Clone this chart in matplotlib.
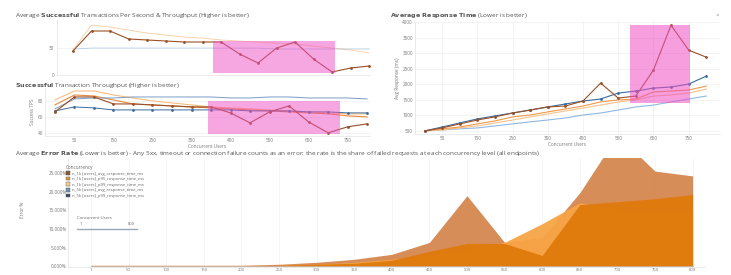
import matplotlib
matplotlib.use("Agg")
import matplotlib.pyplot as plt
from matplotlib.lines import Line2D
from matplotlib.patches import Rectangle, Patch

plt.rcParams['font.family'] = ['Open Sans', 'DejaVu Sans']

# ---------------- data ----------------
users = [1, 50, 100, 150, 200, 250, 300, 350, 400, 450, 500, 550, 600, 650, 700, 750, 800]
tick_users = [50, 150, 250, 350, 450, 550, 650, 750]

series_names = [
    "n_1k [users]_avg_response_time_ms",
    "n_1k [users]_p95_response_time_ms",
    "n_1k [users]_p99_response_time_ms",
    "n_5k [users]_avg_response_time_ms",
    "n_5k [users]_p99_response_time_ms",
]
legend_colors = ["#8e5a32", "#dd9a3c", "#f3cf8c", "#7892b4", "#34506f"]

# Panel A: average successful TPS
tps_brown = [26.2, 48, 48, 39.3, 38.2, 37.1, 36, 36, 36, 22.9, 13.1, 29.4, 36, 17.4, 3.3, 7.6, 9.8]
tps_peach = [27.3, 54.5, 52.3, 49, 45.8, 43.6, 41.4, 40.3, 38.2, 37, 36, 34.9, 33.8, 31.6, 29.4, 27.3, 24]
tps_lightblue = [28.3, 29.4, 29.4, 29.4, 29.4, 29.4, 29.4, 29.4, 29.4, 29.4, 29.4, 28.3, 28.3, 28.3, 28.3, 28.3, 28.3]

# Panel B: successful throughput
thr_brown = [66.25, 85, 85, 76.25, 76.25, 75, 73.75, 72.5, 72.5, 65, 52.5, 66.25, 73.75, 53.75, 40, 47.5, 51.25]
thr_orange = [75, 87.5, 86.25, 81.25, 76.25, 75, 73.75, 72.5, 71.25, 70, 68.75, 67.5, 66.25, 65, 63.75, 61.25, 60]
thr_peach = [81.25, 92.5, 92.5, 87.5, 83.75, 80, 77.5, 75, 72.5, 71.25, 70, 68.75, 67.5, 66.25, 65, 63.75, 63.75]
thr_blue_light = [70, 82.5, 83.75, 83.75, 85, 85, 85, 85, 85, 83.75, 83.75, 85, 85, 83.75, 83.75, 83.75, 82.5]
thr_blue_dark = [67.5, 72.5, 71.25, 68.75, 68.75, 68.75, 68.75, 68.75, 68.75, 68.75, 67.5, 67.5, 67.5, 66.25, 66.25, 65, 65]

# Panel C: average response time (ms)
rt_brown = [500, 595, 725, 850, 950, 1075, 1170, 1270, 1300, 1460, 2035, 1555, 1620, 2455, 3895, 3095, 2870]
rt_darkblue = [500, 625, 755, 885, 980, 1075, 1170, 1270, 1365, 1460, 1525, 1715, 1780, 1875, 1910, 2005, 2260]
rt_orange = [500, 565, 625, 725, 820, 950, 1010, 1110, 1205, 1300, 1430, 1495, 1525, 1750, 1780, 1815, 1940]
rt_peach = [500, 530, 595, 660, 755, 850, 950, 1045, 1140, 1235, 1330, 1430, 1495, 1620, 1655, 1715, 1845]
rt_lightblue = [500, 530, 565, 595, 660, 725, 790, 850, 915, 1010, 1075, 1170, 1270, 1330, 1430, 1525, 1620]

# Panel D: error rate (%)
err_s1 = [0.27, 0.27, 0.27, 0.27, 0.27, 0.53, 1.06, 1.86, 3.19, 6.38, 18.9, 6.38, 7.71, 19.7, 35.1, 25.5, 24.2]
err_s2 = [0, 0, 0, 0, 0, 0.27, 0.53, 1.06, 1.86, 2.93, 4.5, 6.4, 11.4, 17.0, 15.2, 14.1, 14.1]
err_s3 = [0, 0, 0, 0, 0, 0.27, 0.53, 0.8, 1.6, 4.0, 6.1, 6.1, 2.9, 16.5, 17.3, 18.1, 19.2]
err_s4 = [0] * 17
err_s5 = [0] * 17

# highlighted (anomaly) windows
hl_a = (7.57, 14.16, 2.2, 37.0)
hl_b = (7.85, 14.6, 38.75, 80.0)
hl_c = (583, 754, 1397, 3897)

# ---------------- figure ----------------
W, H = 731, 275
fig = plt.figure(figsize=(W / 100, H / 100), dpi=100)


def box(x0, y0, x1, y1):
    return [x0 / W, 1 - y1 / H, (x1 - x0) / W, (y1 - y0) / H]


TXT = "#555555"
GRID = "#eeeeee"
PINK = "#ef4fc4"
TICK_FS = 3.3


def style(ax, pad=2):
    for s in ("top", "right"):
        ax.spines[s].set_visible(False)
    for s in ("left", "bottom"):
        ax.spines[s].set_color("#e2e2e2")
        ax.spines[s].set_linewidth(0.5)
    ax.tick_params(length=0, labelsize=TICK_FS, colors="#777777", pad=pad)


def title(x, y, parts):
    s = ""
    for txt, bold in parts:
        if bold:
            s += r"$\bf{" + txt.replace(" ", r"\ ") + "}$"
        else:
            s += txt
    return fig.text(x / W, 1 - y / H, s, fontsize=4.6, color=TXT, va="center")


idx = list(range(len(users)))
odd_idx = [i for i in idx if users[i] in tick_users]

# ---- Panel A ----
axA = fig.add_axes(box(57, 20, 370, 75))
style(axA)
axA.plot(idx, tps_peach, color="#f6b77a", lw=0.6, alpha=0.7)
axA.plot(idx, tps_lightblue, color="#9cc0e4", lw=0.6, alpha=0.7)
axA.plot(idx, tps_brown, color="#9a5026", lw=0.8, marker="o", ms=1.0)
axA.add_patch(Rectangle((hl_a[0], hl_a[2]), hl_a[1] - hl_a[0], hl_a[3] - hl_a[2],
                        color=PINK, alpha=0.5, lw=0, zorder=5))
axA.set_xlim(-0.865, 16.05)
axA.set_ylim(0, 60)
axA.set_yticks([0, 30])
axA.set_xticks(odd_idx)
axA.set_xticklabels([])
axA.grid(axis="y", color=GRID, lw=0.5)
axA.set_axisbelow(True)
title(15, 15, [("Average ", False), ("Successful", True),
               (" Transactions Per Second & Throughput (Higher is better)", False)])

# ---- Panel B ----
axB = fig.add_axes(box(45, 88, 370, 136))
style(axB, pad=1.5)
axB.plot(idx, thr_peach, color="#f7bd80", lw=0.8)
axB.plot(idx, thr_orange, color="#e8893a", lw=0.8)
axB.plot(idx, thr_blue_light, color="#7a9cc4", lw=0.7)
axB.plot(idx, thr_blue_dark, color="#3d6b9c", lw=0.7, marker="o", ms=1.0)
axB.plot(idx, thr_brown, color="#9a5026", lw=0.8, marker="o", ms=1.0)
axB.add_patch(Rectangle((hl_b[0], hl_b[2]), hl_b[1] - hl_b[0], hl_b[3] - hl_b[2],
                        color=PINK, alpha=0.5, lw=0, zorder=5))
axB.set_xlim(-0.51, 16.15)
axB.set_ylim(36, 96.25)
axB.set_yticks([40, 60, 80])
axB.set_xticks(odd_idx)
axB.set_xticklabels([str(users[i]) for i in odd_idx])
axB.grid(axis="y", color=GRID, lw=0.5)
axB.set_axisbelow(True)
axB.set_xlabel("Concurrent Users", fontsize=3.3, color="#777777", labelpad=0.8)
axB.set_ylabel("Success TPS", fontsize=3.4, color="#777777", labelpad=2)
title(15, 85, [("Successful", True), (" Transaction Throughput (Higher is better)", False)])

# ---- Panel C ----
axC = fig.add_axes(box(415, 22, 720, 134))
style(axC, pad=1.5)
axC.plot(users, rt_lightblue, color="#8fb8e2", lw=0.8)
axC.plot(users, rt_peach, color="#f7c28c", lw=0.8)
axC.plot(users, rt_orange, color="#ee9a4a", lw=0.8)
axC.plot(users, rt_darkblue, color="#3d6b9c", lw=0.8, marker="o", ms=1.0)
axC.plot(users, rt_brown, color="#9a5026", lw=0.8, marker="o", ms=1.0)
axC.add_patch(Rectangle((hl_c[0], hl_c[2]), hl_c[1] - hl_c[0], hl_c[3] - hl_c[2],
                        color=PINK, alpha=0.55, lw=0, zorder=5))
axC.set_xlim(-27, 839)
axC.set_ylim(400, 4000)
axC.set_yticks(range(500, 4001, 500))
axC.set_xticks(tick_users)
axC.grid(color=GRID, lw=0.5)
axC.set_axisbelow(True)
axC.set_xlabel("Concurrent Users", fontsize=3.3, color="#777777", labelpad=0.8)
axC.set_ylabel("Avg Response (ms)", fontsize=3.4, color="#777777", labelpad=2)
title(390, 15, [("Average Response Time", True), (" (Lower is better)", False)])
fig.text(717 / W, 1 - 15 / H, "\u00d7", fontsize=4.5, color="#999999", ha="center", va="center")

# ---- Panel D ----
axD = fig.add_axes(box(68, 158, 705, 267))
style(axD, pad=1)
axD.tick_params(axis="x", labelsize=3.0, pad=1)
axD.fill_between(idx, err_s1, color="#d4834a", alpha=0.92, lw=0)
axD.fill_between(idx, err_s2, color="#f7a546", alpha=0.95, lw=0)
axD.fill_between(idx, err_s3, color="#e07a0c", alpha=0.97, lw=0)
axD.fill_between(idx, err_s4, color="#7892b4", lw=0)
axD.fill_between(idx, err_s5, color="#34506f", lw=0)
axD.plot(idx, err_s5, color="#c8b4a4", lw=0.6)
axD.set_xlim(-0.61, 16.33)
axD.set_ylim(-0.2, 29.0)
axD.set_yticks([0, 5, 10, 15, 20, 25])
axD.set_yticklabels([f"{v:.3f}%" for v in [0, 5, 10, 15, 20, 25]])
axD.set_xticks(idx)
axD.set_xticklabels([str(u) for u in users])
axD.grid(axis="x", color="#f3f3f3", lw=0.5)
axD.set_axisbelow(True)
fig.text(22 / W, 1 - 210 / H, "Error %", fontsize=3.4, color="#777777",
         rotation=90, ha="center", va="center")
title(15, 154, [("Average ", False), ("Error Rate", True),
                (" (Lower is better) - Any 5xx, timeout or connection failure counts as an error; "
                 "the rate is the share of failed requests at each concurrency level (all endpoints)", False)])

handles = [Patch(facecolor=c, edgecolor="#555555", lw=0.3) for c in legend_colors]
leg = fig.legend(handles, series_names, title="Concurrency", loc="upper left",
                 bbox_to_anchor=(66 / W, 1 - 165 / H), fontsize=3.1, title_fontsize=3.3,
                 frameon=False, handlelength=0.9, handleheight=0.9, labelspacing=0.3,
                 borderpad=0, borderaxespad=0, handletextpad=0.5, alignment="left")
for t in leg.get_texts():
    t.set_color("#666666")
leg.get_title().set_color("#666666")

# slider widget
fig.text(77 / W, 1 - 218 / H, "Concurrent Users", fontsize=3.1, color="#666666", va="center")
fig.text(80 / W, 1 - 224 / H, "1", fontsize=2.9, color="#666666", va="center")
fig.text(128 / W, 1 - 224 / H, "800", fontsize=2.9, color="#666666", va="center")
fig.add_artist(Line2D([77 / W, 137 / W], [1 - 229 / H, 1 - 229 / H], color="#9aa7b8", lw=1.0))

fig.savefig("out.png", dpi=100)
